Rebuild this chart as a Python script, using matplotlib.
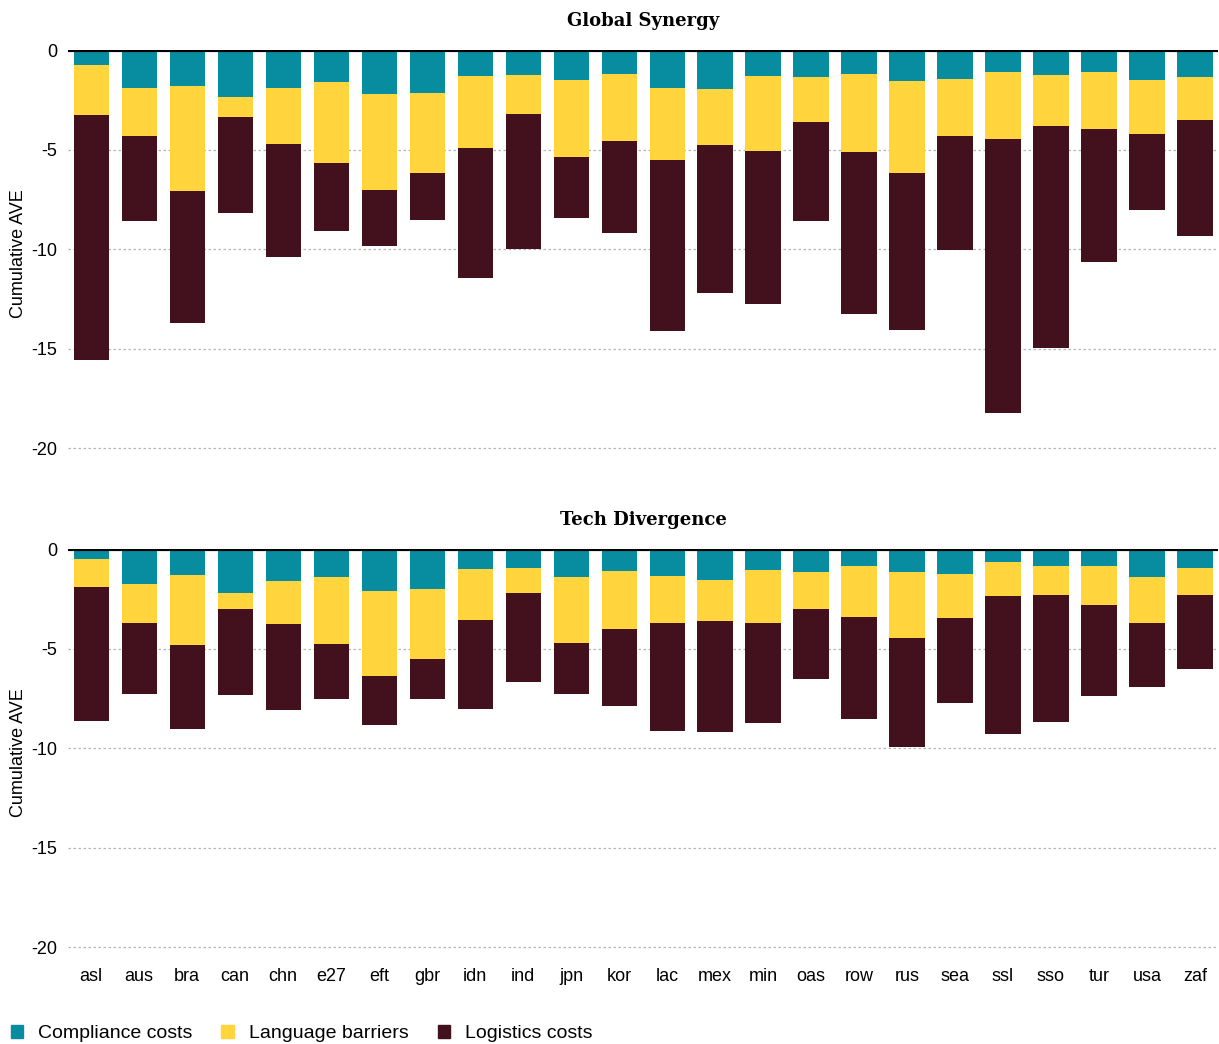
import numpy as np
import matplotlib
matplotlib.use("Agg")
import matplotlib.pyplot as plt
from matplotlib.patches import Patch

plt.rcParams['font.family'] = ['Liberation Sans', 'DejaVu Sans']
plt.rcParams['axes.unicode_minus'] = False

regions = ['asl', 'aus', 'bra', 'can', 'chn', 'e27', 'eft', 'gbr', 'idn', 'ind', 'jpn', 'kor',
           'lac', 'mex', 'min', 'oas', 'row', 'rus', 'sea', 'ssl', 'sso', 'tur', 'usa', 'zaf']

# Global Synergy scenario (negative contributions)
gs_compliance = [0.75, 1.91, 1.81, 2.36, 1.91, 1.61, 2.21, 2.16, 1.31, 1.26, 1.51, 1.21,
                 1.91, 1.96, 1.31, 1.36, 1.21, 1.56, 1.46, 1.11, 1.26, 1.11, 1.51, 1.36]
gs_language = [2.52, 2.41, 5.28, 1.01, 2.81, 4.07, 4.83, 4.02, 3.61, 1.96, 3.87, 3.36,
               3.62, 2.81, 3.77, 2.26, 3.92, 4.62, 2.86, 3.36, 2.56, 2.86, 2.71, 2.16]
gs_logistics = [12.31, 4.27, 6.63, 4.82, 5.68, 3.42, 2.81, 2.36, 6.54, 6.78, 3.06, 4.63,
                8.59, 7.44, 7.68, 4.97, 8.14, 7.89, 5.73, 13.77, 11.15, 6.68, 3.82, 5.83]

# Tech Divergence scenario
td_compliance = [0.48, 1.74, 1.28, 2.19, 1.59, 1.38, 2.09, 1.99, 0.98, 0.93, 1.38, 1.08,
                 1.33, 1.54, 1.03, 1.13, 0.83, 1.13, 1.23, 0.63, 0.83, 0.83, 1.38, 0.93]
td_language = [1.41, 1.96, 3.53, 0.80, 2.16, 3.38, 4.28, 3.52, 2.57, 1.26, 3.33, 2.92,
               2.37, 2.06, 2.67, 1.86, 2.57, 3.32, 2.22, 1.71, 1.46, 1.96, 2.32, 1.36]
td_logistics = [6.74, 3.57, 4.22, 4.33, 4.33, 2.77, 2.46, 2.02, 4.48, 4.48, 2.56, 3.88,
                5.44, 5.59, 5.03, 3.53, 5.13, 5.49, 4.28, 6.95, 6.39, 4.58, 3.22, 3.73]

colors = ['#088DA0', '#FFD43D', '#43101D']
labels = ['Compliance costs', 'Language barriers', 'Logistics costs']

fig = plt.figure(figsize=(12.19, 10.44), dpi=100)
ax1 = fig.add_axes([0.0558, 0.5613, 0.9434, 0.3908])
ax2 = fig.add_axes([0.0558, 0.0833, 0.9434, 0.3908])

x = np.arange(len(regions))
panels = [(ax1, 'Global Synergy', [gs_compliance, gs_language, gs_logistics]),
          (ax2, 'Tech Divergence', [td_compliance, td_language, td_logistics])]

for ax, title, series in panels:
    bottom = np.zeros(len(regions))
    for vals, c in zip(series, colors):
        v = -np.array(vals)
        ax.bar(x, v, bottom=bottom, width=0.73, color=c, zorder=3)
        bottom = bottom + v
    ax.axhline(0, color='black', lw=3, zorder=4)
    ax.set_ylim(-20.5, 0)
    ax.set_xlim(-0.48, 23.48)
    ax.set_yticks([0, -5, -10, -15, -20])
    for yv in [-5, -10, -15, -20]:
        ax.axhline(yv, color='#b5b5b5', lw=0.9, ls=(0, (2, 2)), zorder=1)
    for s in ax.spines.values():
        s.set_visible(False)
    ax.tick_params(axis='both', length=0, labelsize=13)
    ax.tick_params(axis='y', pad=8)
    ax.set_ylabel('Cumulative AVE', fontsize=13)
    ax.yaxis.set_label_coords(-0.036, 0.5)
    ax.set_title(title, fontsize=13, fontweight='bold', family='DejaVu Serif', pad=17)

ax1.set_xticks([])
ax2.set_xticks(x)
ax2.set_xticklabels(regions)
ax2.tick_params(axis='x', pad=8)

handles = [Patch(color=c, label=l) for c, l in zip(colors, labels)]
fig.legend(handles=handles, loc='lower left', bbox_to_anchor=(-0.004, -0.013), ncol=3, frameon=False,
           fontsize=14, handlelength=0.65, handleheight=0.65, handletextpad=0.75,
           columnspacing=1.5, borderpad=0.3)

fig.savefig('out.png', dpi=100)
